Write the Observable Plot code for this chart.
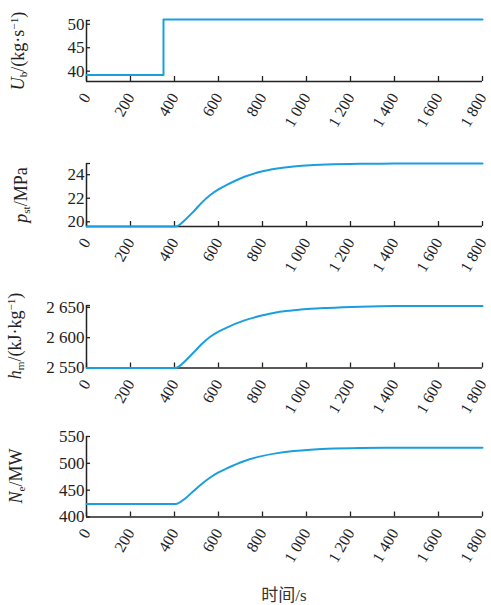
<!DOCTYPE html>
<html>
<head>
<meta charset="utf-8">
<script src="https://cdn.jsdelivr.net/npm/d3@7"></script>
<script src="https://cdn.jsdelivr.net/npm/@observablehq/plot@0.6"></script>
<style>
  body { margin: 0; background: #ffffff; }
  #wrap { position: relative; width: 491px; height: 605px; font-family: "Liberation Serif", "Times New Roman", serif; color: #222; overflow: hidden; }
  .panel { position: absolute; left: 0; }
  .ytitle { position: absolute; white-space: nowrap; font-size: 18px; line-height: 1; transform-origin: 0 0; transform: rotate(-90deg) translate(-50%, -100%); }
  .ytitle sub, .ytitle sup { font-size: 0.62em; vertical-align: baseline; position: relative; }
  .ytitle sub { top: 0.3em; }
  .ytitle sup { top: -0.55em; }
  .xtitle { position: absolute; left: 284px; top: 593px; transform: translate(-50%, -50%); font-size: 17px; font-family: "Liberation Serif", "Noto Sans CJK SC", serif; white-space: nowrap; color: #333; }
</style>
</head>
<body>
<div id="wrap"></div>
<script>
// ---- data ----
const xTicks = [0, 200, 400, 600, 800, 1000, 1200, 1400, 1600, 1800];

const fuelTime = [0, 350, 350, 1800];
const fuelFlow = [39.2, 39.2, 51.0, 51.0];
const fuelTicks = [40, 45, 50];

const respTime = [0, 405, 450, 488, 525, 564, 600, 640, 715, 791, 867, 942, 1018, 1094, 1245, 1400, 1600, 1800];
const steamPressure = [19.6, 19.6, 20.2, 20.9, 21.65, 22.3, 22.75, 23.15, 23.8, 24.25, 24.52, 24.69, 24.80, 24.86, 24.92, 24.94, 24.95, 24.95];
const pressureTicks = [20, 22, 24];
const enthalpy = [2550, 2550, 2562, 2576, 2590, 2602, 2610, 2617, 2628, 2636, 2642, 2645, 2647.5, 2649, 2651, 2652, 2652, 2652];
const enthalpyTicks = [2550, 2600, 2650];
const power = [424, 424, 435, 449, 462, 474, 483, 491, 504, 513, 519, 523, 525.5, 527, 528.5, 529, 529, 529];
const powerTicks = [400, 450, 500, 550];

const xTitle = "时间/s";

// ---- layout ----
const W = 491, ML = 86, MR = 9, MT = 12, MB = 48;
const lineColor = "#1a9fde";
const axisColor = "#222";
const fmt = d3.formatLocale({decimal: ".", thousands: " ", grouping: [3], currency: ["", ""]}).format(",d");

const panels = [
  {top: 20, bottom: 81, domain: [37.8, 50.8], ticks: fuelTicks, x: fuelTime, y: fuelFlow, curve: "linear",
   title: '<i>U</i><sub>b</sub>/(kg·s<sup>−1</sup>)', titleX: 27},
  {top: 163, bottom: 226, domain: [19.6, 24.95], ticks: pressureTicks, x: respTime, y: steamPressure, curve: "monotone-x",
   title: '<i>p</i><sub>st</sub>/MPa', titleX: 29.5},
  {top: 305, bottom: 367.5, domain: [2550, 2653], ticks: enthalpyTicks, x: respTime, y: enthalpy, curve: "monotone-x",
   title: '<i>h</i><sub>m</sub>/(kJ·kg<sup>−1</sup>)', titleX: 24},
  {top: 436, bottom: 516.5, domain: [400, 550], ticks: powerTicks, x: respTime, y: power, curve: "monotone-x",
   title: '<i>N</i><sub>e</sub>/MW', titleX: 25}
];

const wrap = document.getElementById("wrap");
const PW = W - ML - MR;

panels.forEach(p => {
  const H = p.bottom - p.top;
  const data = p.x.map((t, i) => ({t, v: p.y[i]}));
  const yTickMarks = p.ticks.includes(p.domain[1]) ? p.ticks : [...p.ticks, p.domain[1]];
  const chart = Plot.plot({
    width: W,
    height: MT + H + MB,
    marginLeft: ML, marginRight: MR, marginTop: MT, marginBottom: MB,
    style: {fontFamily: '"Liberation Serif", "Times New Roman", serif', fontSize: "16px", color: axisColor, background: "transparent", overflow: "visible"},
    x: {domain: [0, 1800]},
    y: {domain: p.domain},
    marks: [
      Plot.ruleY([p.domain[0]], {stroke: axisColor, strokeWidth: 1.5}),
      Plot.ruleX([0], {stroke: axisColor, strokeWidth: 1.5}),
      Plot.tickX(xTicks, {x: d => d, stroke: axisColor, strokeWidth: 1.3, insetTop: H - 5}),
      Plot.tickY(yTickMarks, {y: d => d, stroke: axisColor, strokeWidth: 1.3, insetRight: PW - 4}),
      Plot.line(data, {x: "t", y: "v", stroke: lineColor, strokeWidth: 2, curve: p.curve}),
      Plot.axisX(xTicks, {tickSize: 0, tickPadding: 13, tickRotate: -60, tickFormat: fmt, label: null, dx: 0, fill: axisColor}),
      Plot.axisY(p.ticks, {tickSize: 0, tickPadding: 2, tickFormat: fmt, label: null, fill: axisColor, fontSize: 17})
    ]
  });
  chart.classList.add("panel");
  chart.style.top = (p.top - MT) + "px";
  wrap.appendChild(chart);

  const t = document.createElement("div");
  t.className = "ytitle";
  t.innerHTML = p.title;
  t.style.left = (p.titleX) + "px";
  t.style.top = ((p.top + p.bottom) / 2) + "px";
  wrap.appendChild(t);
});

const xt = document.createElement("div");
xt.className = "xtitle";
xt.textContent = xTitle;
wrap.appendChild(xt);
</script>
</body>
</html>
